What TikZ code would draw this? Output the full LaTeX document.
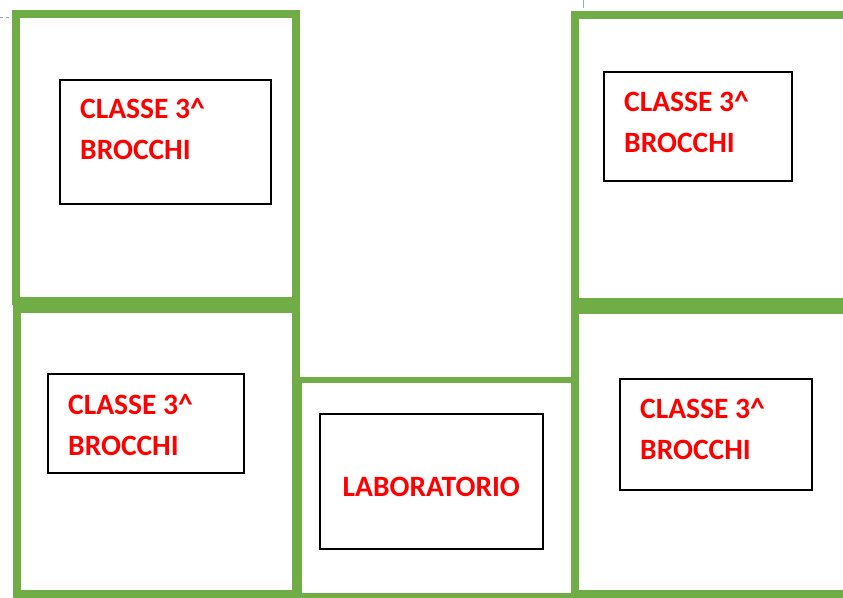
\documentclass[tikz,border=0pt]{standalone}
\usepackage{fontspec}
\setmainfont{Carlito}
\usepackage{tikz}
\usetikzlibrary{positioning}
\definecolor{wallgreen}{HTML}{70AD47}
\definecolor{markblue}{HTML}{8EAADB}

\begin{document}
\begin{tikzpicture}[x=1pt, y=-1pt,
    roomwall/.style={draw=wallgreen, line width=8pt},
    deskbox/.style={rectangle, draw=black, line width=1.6pt, inner sep=0pt, anchor=north west},
    classtext/.style={text=red, font=\fontsize{29.5}{41}\selectfont\bfseries, align=left, inner sep=0pt},
]
\useasboundingbox (0,0) rectangle (843,597);
\clip (0,0) rectangle (843,597);
% marks of the page
\draw[markblue, line width=1pt, dashed] (0,17) -- (11,17);
\draw[markblue, line width=1pt] (583,0) -- (583,8);
% rooms
\draw[roomwall] (16,14) rectangle (296,301);
\draw[roomwall] (17,309) rectangle (296,594);
\draw[roomwall, line width=6pt] (299,380) rectangle (575,596);
\draw[roomwall] (575,15) rectangle (860,302);
\draw[roomwall] (575,310) rectangle (860,594);
% boxes
\node[deskbox, minimum width=211pt, minimum height=124pt](b1) at (59,79){};
\node[deskbox, minimum width=188pt, minimum height=109pt](b2) at (603,71){};
\node[deskbox, minimum width=196pt, minimum height=99pt](b3) at (47,373){};
\node[deskbox, minimum width=192pt, minimum height=111pt](b4) at (619,378){};
\node[deskbox, minimum width=223pt, minimum height=135pt](lab) at (319,413){};
% texts
\node[classtext, anchor=north west](t1)[below right=19pt and 21pt of b1.north west]{CLASSE 3\textasciicircum\\BROCCHI};
\node[classtext, anchor=north west](t2)[below right=20pt and 21pt of b2.north west]{CLASSE 3\textasciicircum\\BROCCHI};
\node[classtext, anchor=north west](t3)[below right=21pt and 21pt of b3.north west]{CLASSE 3\textasciicircum\\BROCCHI};
\node[classtext, anchor=north west](t4)[below right=20pt and 21pt of b4.north west]{CLASSE 3\textasciicircum\\BROCCHI};
\node[classtext](tlab) at ([yshift=-6pt]lab.center){LABORATORIO};
\end{tikzpicture}
\end{document}
